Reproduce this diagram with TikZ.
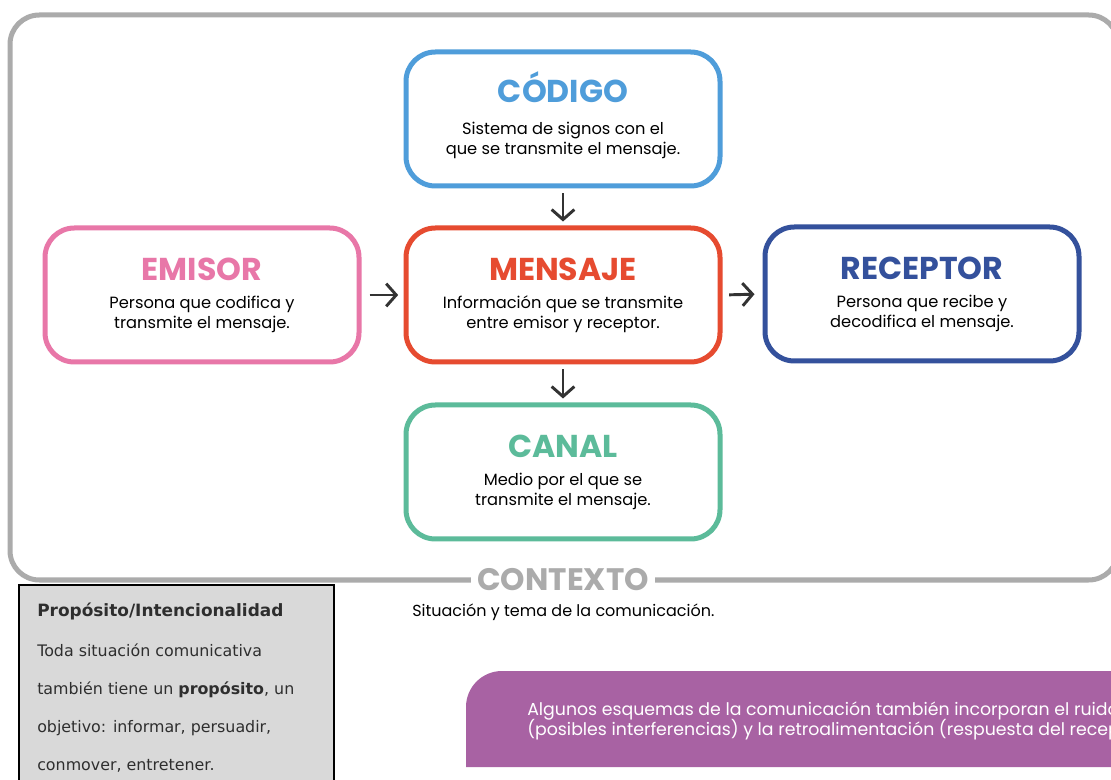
\documentclass[tikz,border=0pt]{standalone}
\usepackage{fontspec}
\setmainfont{Poppins}
\newfontfamily\gfont{DejaVu Sans}
\usetikzlibrary{arrows.meta,calc}
\definecolor{cblue}{HTML}{4F9DDA}
\definecolor{cpink}{HTML}{E877A8}
\definecolor{cred}{HTML}{E64B30}
\definecolor{cnavy}{HTML}{34519C}
\definecolor{cteal}{HTML}{5CBB9A}
\definecolor{cframe}{HTML}{ABABAB}
\definecolor{cpurple}{HTML}{A862A3}
\definecolor{cgbox}{HTML}{D9D9D9}
\definecolor{carrow}{HTML}{333333}
\tikzset{
  card/.style={draw=#1, line width=3.75pt, rounded corners=22pt,
    minimum width=235.5pt, minimum height=100.5pt, fill=white, inner sep=0pt},
  ttl/.style={text=#1, font=\fontsize{23.7}{26}\selectfont\bfseries, anchor=base, inner sep=0pt},
  body/.style={font=\fontsize{12.2}{15}\selectfont, align=center, inner sep=0pt, text=black},
  arr/.style={draw=carrow, line width=2.2pt, -{Straight Barb[length=7.5pt,width=17pt]}},
  gtxt/.style={font=\gfont\fontsize{11.9}{14}\selectfont, text=black!82, anchor=base west, inner sep=0pt},
  ptxt/.style={font=\fontsize{13}{15}\selectfont, text=white, anchor=base west, inner sep=0pt},
}
\begin{document}
\begin{tikzpicture}[x=0.75pt,y=-0.75pt]
\clip (0,0) rectangle (1111,780);
\fill[white] (0,0) rectangle (1111,780);
% outer frame
\draw[cframe, line width=3.75pt, rounded corners=22pt] (10,15) rectangle (1118,580);
% boxes
\node[card=cblue] (cod) at (563,119) {};
\node[card=cpink] (emi) at (202,295) {};
\node[card=cred] (men) at (563,295) {};
\node[card=cnavy] (rec) at (922,294) {};
\node[card=cteal] (can) at (563,472) {};
% titles
\node[ttl=cblue] (codT) at ($(cod.center)+(0,-16)$) {CÓDIGO};
\node[ttl=cpink] (emiT) at ($(emi.center)+(0,-14)$) {EMISOR};
\node[ttl=cred] (menT) at ($(men.center)+(0,-14)$) {MENSAJE};
\node[ttl=cnavy] (recT) at ($(rec.center)+(0,-14)$) {RECEPTOR};
\node[ttl=cteal] (canT) at ($(can.center)+(0,-14)$) {CANAL};
% bodies
\node[body] (codB) at ($(cod.center)+(0,21)$) {Sistema de signos con el\\que se transmite el mensaje.};
\node[body] (emiB) at ($(emi.center)+(0,19)$) {Persona que codifica y\\transmite el mensaje.};
\node[body] (menB) at ($(men.center)+(0,19)$) {Información que se transmite\\entre emisor y receptor.};
\node[body] (recB) at ($(rec.center)+(0,19)$) {Persona que recibe y\\decodifica el mensaje.};
\node[body] (canB) at ($(can.center)+(0,19)$) {Medio por el que se\\transmite el mensaje.};
% arrows
\draw[arr, shorten <=3.5pt, shorten >=3pt] (cod.south) -- (men.north);
\draw[arr, shorten <=3.5pt, shorten >=3pt] (men.south) -- (can.north);
\draw[arr, shorten <=6pt, shorten >=4pt] (emi.east) -- (men.west);
\draw[arr, shorten <=5pt, shorten >=6pt] (men.east) -- (rec.west);
% contexto
\node[font=\fontsize{23.3}{26}\selectfont\bfseries, text=cframe, fill=white,
  inner xsep=5pt, inner ysep=3pt, anchor=base] (ctx) at (563,590) {CONTEXTO};
\node[font=\fontsize{12}{14}\selectfont, anchor=base west, inner sep=0pt] (ctxB) at (412,616)
  {Situación y tema de la comunicación.};
% gray box
\node[draw=black, line width=1.5pt, fill=cgbox, minimum width=236pt, minimum height=170pt,
  anchor=north west, inner sep=0pt] (gbox) at (18,584) {};
\node[gtxt, font=\gfont\fontsize{12.7}{14}\selectfont\bfseries] (g0) at (37,616) {Propósito/Intencionalidad};
\node[gtxt] (g1) at (37,656) {Toda situación comunicativa};
\node[gtxt] (g2) at (37,694) {también tiene un \textbf{propósito}, un};
\node[gtxt] (g3) at (37,732) {objetivo: informar, persuadir,};
\node[gtxt] (g4) at (37,770) {conmover, entretener.};
% purple note
\fill[cpurple] (466,767) -- (466,707) arc[start angle=180, end angle=270, radius=36] -- (1130,671) -- (1130,767) -- cycle;
\node[ptxt] (p1) at (527,715) {Algunos esquemas de la comunicación también incorporan el ruido};
\node[ptxt] (p2) at (527,735) {(posibles interferencias) y la retroalimentación (respuesta del receptor).};
\end{tikzpicture}
\end{document}
